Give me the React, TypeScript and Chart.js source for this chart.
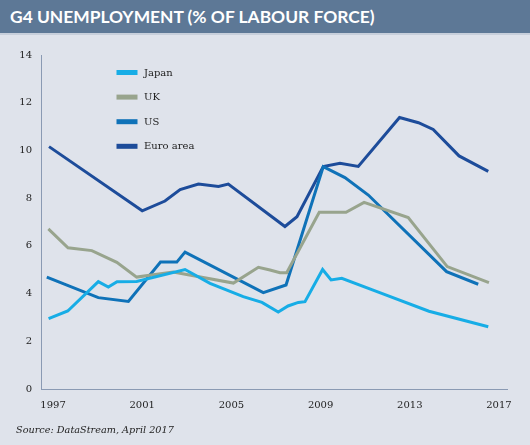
import React, { useEffect, useRef } from "react";
import { Chart, registerables } from "chart.js";

Chart.register(...registerables);

const TITLE = "G4 UNEMPLOYMENT (% OF LABOUR FORCE)";
const SOURCE = "Source: DataStream, April 2017";

// Axis ticks
const yearTicks = [1997, 2001, 2005, 2009, 2013, 2017];
const rateTicks = [0, 2, 4, 6, 8, 10, 12, 14];

// Unemployment, % of labour force (x = decimal year)
const japanYears = [1996.8, 1997.66, 1999.03, 1999.48, 1999.87, 2000.75, 2002.92, 2004.04, 2005.53, 2006.37, 2007.1, 2007.54, 2008.0, 2008.3, 2009.09, 2009.47, 2009.95, 2011.74, 2013.86, 2016.52];
const japanRates = [2.95, 3.27, 4.5, 4.27, 4.5, 4.51, 5.01, 4.43, 3.87, 3.63, 3.23, 3.48, 3.63, 3.66, 5.01, 4.57, 4.64, 4.01, 3.26, 2.61];

const ukYears = [1996.79, 1997.67, 1998.74, 1999.86, 2000.75, 2002.39, 2005.09, 2006.21, 2006.73, 2007.18, 2007.48, 2008.94, 2010.14, 2010.95, 2012.93, 2014.68, 2016.55];
const ukRates = [6.71, 5.92, 5.8, 5.31, 4.69, 4.9, 4.44, 5.1, 4.99, 4.87, 4.87, 7.41, 7.41, 7.82, 7.19, 5.13, 4.46];

const usYears = [1996.72, 1999.03, 2000.38, 2001.82, 2002.55, 2002.92, 2006.43, 2007.45, 2009.12, 2010.09, 2011.14, 2014.65, 2016.07];
const usRates = [4.69, 3.83, 3.67, 5.32, 5.32, 5.74, 4.04, 4.36, 9.32, 8.86, 8.13, 4.92, 4.39];

const euroYears = [1996.82, 2001.0, 2002.02, 2002.7, 2003.52, 2004.42, 2004.86, 2007.4, 2007.94, 2009.12, 2009.87, 2010.69, 2012.54, 2013.39, 2014.05, 2015.21, 2016.52];
const euroRates = [10.16, 7.47, 7.88, 8.36, 8.59, 8.49, 8.59, 6.81, 7.22, 9.32, 9.46, 9.33, 11.38, 11.16, 10.88, 9.77, 9.12];

const seriesNames = ["Japan", "UK", "US", "Euro area"];
const seriesYears = [japanYears, ukYears, usYears, euroYears];
const seriesRates = [japanRates, ukRates, usRates, euroRates];
const seriesColors = ["#17ade6", "#98a48d", "#0f72b8", "#1d4c9a"];

const AXIS_COLOR = "#8a9ab3";
const TEXT_COLOR = "#222222";
const SERIF = '"DejaVu Serif", serif';

// Legend drawn inside the plot, stacked vertically
const insetLegend = {
  id: "insetLegend",
  afterDraw(chart: any) {
    const ctx = chart.ctx;
    ctx.save();
    ctx.font = `10px ${SERIF}`;
    ctx.textBaseline = "middle";
    ctx.textAlign = "left";
    chart.data.datasets.forEach((ds: any, i: number) => {
      const y = 72.5 + i * 24.6;
      ctx.fillStyle = ds.borderColor;
      ctx.fillRect(116.5, y - 2.5, 21, 5);
      ctx.fillStyle = TEXT_COLOR;
      ctx.fillText(ds.label, 144, y + 0.5);
    });
    ctx.restore();
  },
};

export default function App() {
  const canvasRef = useRef<HTMLCanvasElement | null>(null);

  useEffect(() => {
    if (!canvasRef.current) return;
    const datasets = seriesNames.map((name, i) => ({
      label: name,
      data: seriesYears[i].map((yr, j) => ({ x: yr, y: seriesRates[i][j] })),
      borderColor: seriesColors[i],
      backgroundColor: seriesColors[i],
      borderWidth: 3,
      pointRadius: 0,
      tension: 0,
      fill: false,
    }));

    const chart = new Chart(canvasRef.current, {
      type: "line",
      data: { datasets },
      plugins: [insetLegend],
      options: {
        animation: false,
        responsive: false,
        devicePixelRatio: 1,
        layout: { padding: { left: 0, right: 23, top: 55, bottom: 26 } },
        plugins: {
          legend: { display: false },
          tooltip: { enabled: false },
          title: { display: false },
        },
        scales: {
          x: {
            type: "linear",
            min: 1996.46,
            max: 2017.36,
            afterBuildTicks: (scale: any) => {
              scale.ticks = yearTicks.map((v) => ({ value: v }));
            },
            afterFit: (scale: any) => {
              scale.height = 30;
            },
            grid: { display: false, drawTicks: false },
            border: { display: true, color: AXIS_COLOR, width: 1 },
            ticks: {
              padding: 10,
              color: TEXT_COLOR,
              font: { family: SERIF, size: 10 },
              callback: (v: any) => String(v),
              maxRotation: 0,
              autoSkip: false,
            },
          },
          y: {
            min: 0,
            max: 14,
            afterBuildTicks: (scale: any) => {
              scale.ticks = rateTicks.map((v) => ({ value: v }));
            },
            afterFit: (scale: any) => {
              scale.width = 41;
            },
            grid: { display: false, drawTicks: false },
            border: { display: true, color: AXIS_COLOR, width: 1 },
            ticks: {
              padding: 9,
              color: TEXT_COLOR,
              font: { family: SERIF, size: 10 },
              callback: (v: any) => String(v),
            },
          },
        },
      },
    });
    return () => chart.destroy();
  }, []);

  return (
    <div
      style={{
        position: "absolute",
        left: 0,
        top: 0,
        width: 530,
        height: 445,
        background: "#dfe3eb",
        overflow: "hidden",
      }}
    >
      <div
        style={{
          position: "absolute",
          left: 0,
          top: 0,
          width: 530,
          height: 33,
          background: "#5d7896",
          borderBottom: "2px solid #c7cfdb",
        }}
      >
        <div
          style={{
            position: "absolute",
            left: 10,
            top: 6,
            color: "#ffffff",
            fontFamily: "Lato, sans-serif",
            fontWeight: 700,
            fontSize: 17.4,
            lineHeight: "22px",
            whiteSpace: "nowrap",
          }}
        >
          {TITLE}
        </div>
      </div>
      <canvas
        ref={canvasRef}
        width={530}
        height={445}
        style={{ position: "absolute", left: 0, top: 0, width: 530, height: 445 }}
      />
      <div
        style={{
          position: "absolute",
          left: 16,
          top: 423,
          color: TEXT_COLOR,
          fontFamily: SERIF,
          fontStyle: "italic",
          fontSize: 9.7,
          lineHeight: "14px",
          whiteSpace: "nowrap",
        }}
      >
        {SOURCE}
      </div>
    </div>
  );
}
